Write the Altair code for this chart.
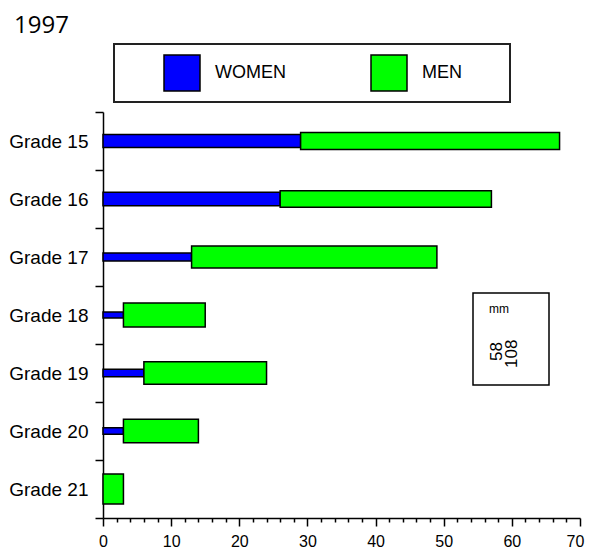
import altair as alt
import pandas as pd

grades = ["Grade 15", "Grade 16", "Grade 17", "Grade 18", "Grade 19", "Grade 20", "Grade 21"]
women = [29, 26, 13, 3, 6, 3, 0]
men = [38, 31, 36, 12, 18, 11, 3]
sexes = ["WOMEN", "MEN"]
colors = ["#0000ff", "#00ff00"]
x_ticks = list(range(0, 71, 2))
box_lines = ["58", "108"]
box_comb = "mm"

rows = []
for g, w, m in zip(grades, women, men):
    rows.append({"grade": g, "sex": "WOMEN", "value": w})
    rows.append({"grade": g, "sex": "MEN", "value": m})
df = pd.DataFrame(rows)

FONT = "Liberation Sans"

bars = (
    alt.Chart(df)
    .transform_joinaggregate(total="sum(value)", groupby=["grade"])
    .transform_calculate(share="datum.value / datum.total",
                         k="datum.sex === 'WOMEN' ? 0 : 1")
    .transform_filter("datum.value > 0")
    .mark_bar(stroke="black", strokeWidth=1.5)
    .encode(
        y=alt.Y("grade:N", sort=grades,
                scale=alt.Scale(paddingInner=0, paddingOuter=0),
                axis=alt.Axis(title=None, tickBand="extent", tickSize=8,
                              labelFontSize=19, labelFont=FONT, labelColor="black",
                              labelPadding=7, domainColor="black", domainWidth=1.5,
                              tickColor="black", tickWidth=1.5)),
        x=alt.X("value:Q", stack="zero",
                scale=alt.Scale(domain=[0, 70], nice=False),
                axis=alt.Axis(title=None, values=x_ticks, grid=False,
                              labelExpr="datum.value % 10 === 0 ? datum.label : ''",
                              tickSize={"condition": {"test": "datum.value % 10 === 0", "value": 8}, "value": 4},
                              labelOffset={"condition": {"test": "datum.value === 70", "value": -5}, "value": 0},
                              labelFontSize=16, labelFont=FONT, labelColor="black",
                              labelPadding=7, domainColor="black", domainWidth=1.5,
                              tickColor="black", tickWidth=1.5, labelFlush=False)),
        color=alt.Color("sex:N", scale=alt.Scale(domain=sexes, range=colors),
                        legend=alt.Legend(title=None, orient="none", legendX=11, legendY=-68,
                                          direction="horizontal", symbolType="square",
                                          symbolSize=1296, symbolStrokeColor="black",
                                          symbolStrokeWidth=1.5, symbolOpacity=1,
                                          labelFontSize=18, labelFont=FONT, labelColor="black",
                                          labelOffset=14, columnPadding=45, symbolOffset=39,
                                          padding=10)),
        size=alt.Size("share:Q", scale=alt.Scale(domain=[0, 1], range=[0, 30]), legend=None),
        order=alt.Order("k:Q"),
    )
)

one = pd.DataFrame({"a": [0]})
legend_frame = alt.Chart(one).mark_rect(fill="white", stroke="#222222", strokeWidth=2).encode(
    x=alt.value(11), x2=alt.value(407), y=alt.value(-68), y2=alt.value(-10))
box = alt.Chart(one).mark_rect(fill="white", stroke="black", strokeWidth=1.5).encode(
    x=alt.value(370), x2=alt.value(446), y=alt.value(181), y2=alt.value(273))
comb = alt.Chart(one).mark_text(text=box_comb, fontSize=12, font=FONT, color="black",
                                baseline="middle", align="center").encode(
    x=alt.value(396), y=alt.value(197))
t1 = alt.Chart(one).mark_text(text=box_lines[0], fontSize=17, font=FONT, color="black",
                              angle=270, align="left", baseline="middle").encode(
    x=alt.value(394), y=alt.value(249))
t2 = alt.Chart(one).mark_text(text=box_lines[1], fontSize=17, font=FONT, color="black",
                              angle=270, align="left", baseline="middle").encode(
    x=alt.value(409), y=alt.value(256))

chart = alt.layer(legend_frame, bars, box, comb, t1, t2).properties(
    width=477, height=406,
    title=alt.TitleParams("1997", anchor="start", frame="group", dx=-89, dy=-1,
                          fontSize=24, font="Open Sans", fontWeight="normal", color="black"),
    autosize="none",
    padding={"left": 95, "top": 104, "right": 5, "bottom": 32},
).configure_view(stroke=None)

chart.save("out.html", embed_options={"renderer": "svg", "actions": False})
